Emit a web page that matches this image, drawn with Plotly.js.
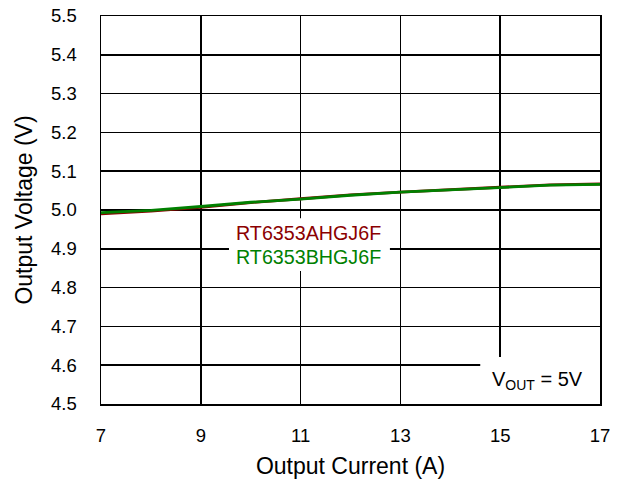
<!DOCTYPE html>
<html>
<head>
<meta charset="utf-8">
<script src="https://cdn.plot.ly/plotly-3.0.1.min.js"></script>
<style>html,body{margin:0;padding:0;background:#fff;}#chart{width:620px;height:485px;}</style>
</head>
<body>
<div id="chart"></div>
<script>
const currentA = [7, 8, 9, 10, 11, 12, 13, 14, 15, 16, 17];
const voltageA = [4.990, 4.997, 5.007, 5.019, 5.029, 5.039, 5.046, 5.052, 5.058, 5.065, 5.067];
const voltageB = [4.993, 4.999, 5.009, 5.020, 5.028, 5.038, 5.046, 5.052, 5.058, 5.064, 5.066];
const nameA = "RT6353AHGJ6F";
const nameB = "RT6353BHGJ6F";
const xTicks = [7, 9, 11, 13, 15, 17];
const yTicks = [4.5, 4.6, 4.7, 4.8, 4.9, 5.0, 5.1, 5.2, 5.3, 5.4, 5.5];

const font = "Liberation Sans, Arial, sans-serif";
const traces = [
  {x: currentA, y: voltageA, name: nameA, mode: "lines", line: {color: "#8b0000", width: 2.8}},
  {x: currentA, y: voltageB, name: nameB, mode: "lines", line: {color: "#008000", width: 2.8}}
];
const layout = {
  width: 620, height: 485,
  margin: {l: 101, r: 20, t: 16, b: 81},
  paper_bgcolor: "#fff", plot_bgcolor: "#fff",
  showlegend: false,
  font: {family: font, size: 18.5, color: "#000"},
  xaxis: {
    range: [7, 17], tickvals: xTicks, ticktext: xTicks.map(String),
    showgrid: true, gridcolor: "#000", gridwidth: 1.5,
    showline: true, linecolor: "#000", linewidth: 1.5, mirror: true,
    ticks: "outside", ticklen: 14, tickcolor: "rgba(0,0,0,0)",
    zeroline: false,
    title: {text: "Output Current (A)", font: {size: 23}, standoff: 13}
  },
  yaxis: {
    range: [4.5, 5.5], tickvals: yTicks, ticktext: yTicks.map(v => v.toFixed(1)),
    showgrid: true, gridcolor: "#000", gridwidth: 1.5,
    showline: true, linecolor: "#000", linewidth: 1.5, mirror: true,
    ticks: "outside", ticklen: 19, tickcolor: "rgba(0,0,0,0)",
    zeroline: false,
    title: {text: "Output Voltage (V)", font: {size: 23}, standoff: 12}
  },
  shapes: [
    {type: "rect", xref: "x", yref: "y", x0: 9.565, x1: 12.79, y0: 4.843, y1: 4.979,
     fillcolor: "#fff", line: {width: 0}, layer: "between"},
    {type: "rect", xref: "x", yref: "y", x0: 14.6, x1: 17, y0: 4.5, y1: 4.621,
     fillcolor: "#fff", line: {width: 0}, layer: "between"}
  ],
  annotations: [
    {xref: "x", yref: "y", x: 11.15, y: 4.941, text: nameA, showarrow: false,
     font: {family: font, size: 19.7, color: "#8b0000"}},
    {xref: "x", yref: "y", x: 11.15, y: 4.88, text: nameB, showarrow: false,
     font: {family: font, size: 19.7, color: "#008000"}},
    {xref: "x", yref: "y", x: 15.74, y: 4.56, text: "V<sub>OUT</sub> = 5V", showarrow: false,
     font: {family: font, size: 20, color: "#000"}}
  ]
};
Plotly.newPlot("chart", traces, layout, {displayModeBar: false, staticPlot: true});
</script>
</body>
</html>
